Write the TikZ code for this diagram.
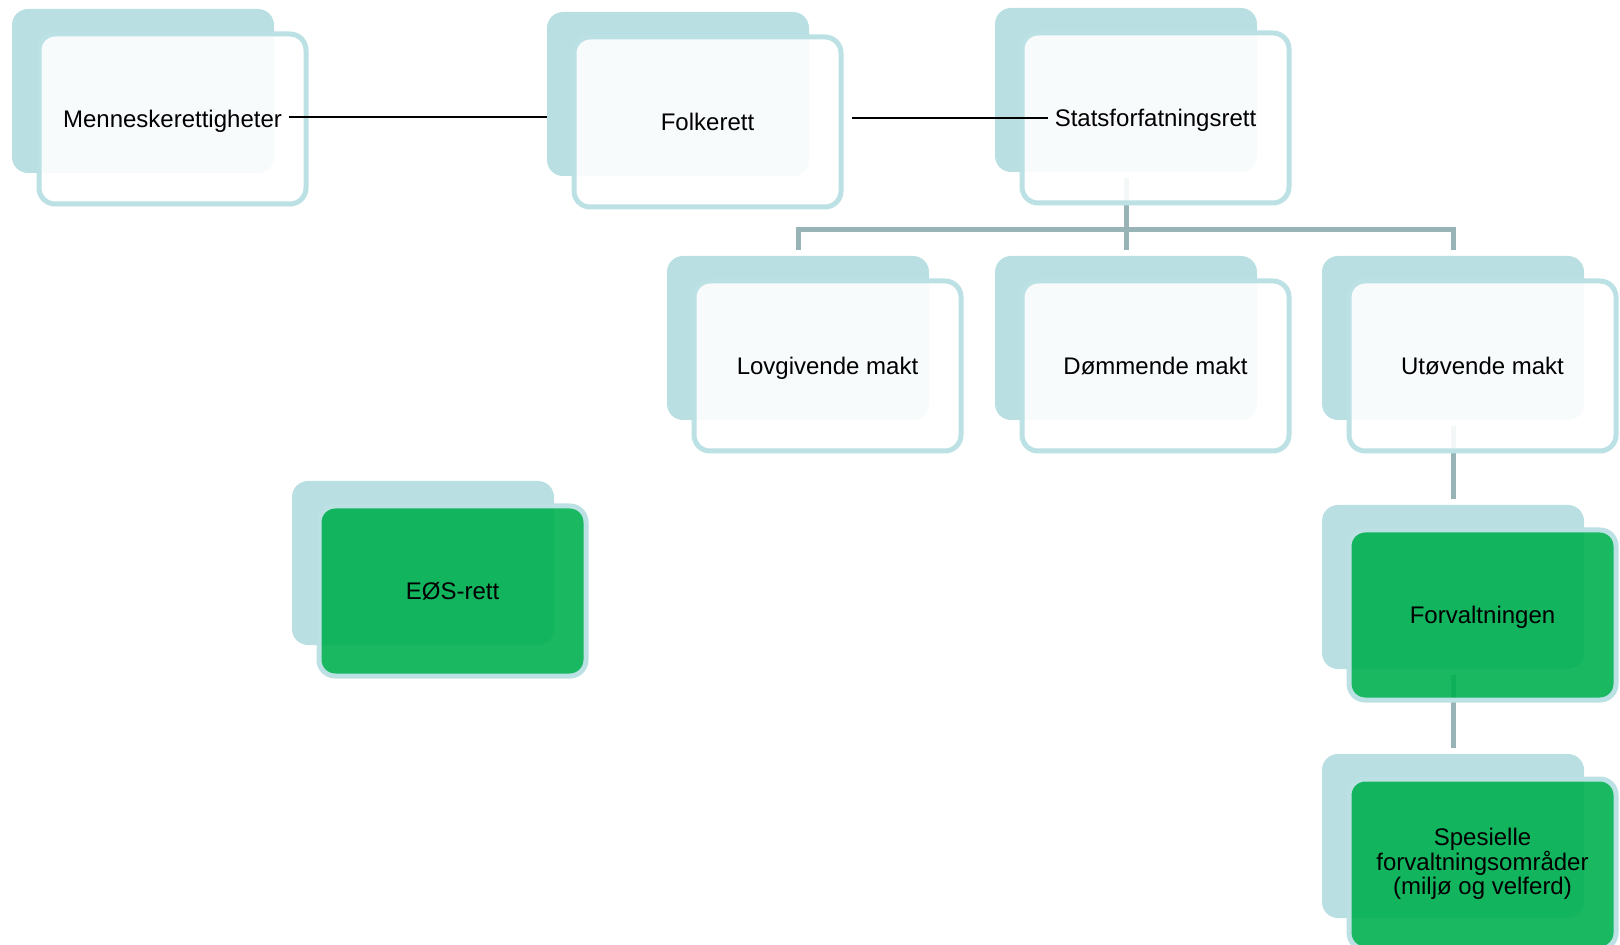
\documentclass[tikz,border=0pt]{standalone}
\usepackage{fontspec}
\setmainfont{Liberation Sans}
\usepackage{xcolor}
\usepackage{tikz}
\definecolor{cardback}{RGB}{185,223,226}
\definecolor{cardline}{RGB}{188,225,228}
\definecolor{treeline}{RGB}{151,179,182}
\definecolor{cardgreen}{RGB}{0,176,80}
\tikzset{ back_card/.style = {rectangle, rounded corners=8pt, fill=cardback, minimum width=131pt, minimum height=82pt, inner sep=0pt} }
\tikzset{ front_card/.style = {rectangle, rounded corners=8pt, draw=cardline, line width=2.5pt, fill=white, fill opacity=0.9, minimum width=133.5pt, minimum height=85pt, inner sep=0pt} }
\tikzset{ green_card/.style = {front_card, fill=cardgreen} }
\tikzset{ card_text/.style = {font=\fontsize{12}{12.3}\selectfont, align=center} }
\tikzset{ line_text/.style = {card_text, text height=10.9pt, text depth=2.5pt} }
\tikzset{ tree_link/.style = {draw=treeline, line width=2.5pt, shorten <=3pt, shorten >=3pt} }
\tikzset{ side_link/.style = {draw=black, line width=1pt} }

\begin{document}
\begin{tikzpicture}[x=0.5pt,y=-0.5pt]
\useasboundingbox (0,0) rectangle (1620,945);
% back cards
\node[back_card] (mback) at (143,91) {};
\node[back_card] (fback) at (678,94) {};
\node[back_card] (sback) at (1126,90) {};
\node[back_card] (lback) at (798,338) {};
\node[back_card] (dback) at (1126,338) {};
\node[back_card] (uback) at (1453,338) {};
\node[back_card] (fvback) at (1453,587) {};
\node[back_card] (spback) at (1453,836) {};
\node[back_card] (eback) at (423,563) {};
% tree under the front cards
\draw[tree_link] (sback.south) -- ++(0,57) -| (lback.north);
\draw[tree_link] (sback.south) -- (dback.north);
\draw[tree_link] (sback.south) -- ++(0,57) -| (uback.north);
\draw[tree_link] (uback.south) -- (fvback.north);
\draw[tree_link] (fvback.south) -- (spback.north);
% front cards
\node[front_card] (mfront) at ([shift={(29.5,28)}]mback) {};
\node[front_card] (ffront) at ([shift={(29.5,28)}]fback) {};
\node[front_card] (sfront) at ([shift={(29.5,28)}]sback) {};
\node[front_card] (lfront) at ([shift={(29.5,28)}]lback) {};
\node[front_card] (dfront) at ([shift={(29.5,28)}]dback) {};
\node[front_card] (ufront) at ([shift={(29.5,28)}]uback) {};
\node[green_card] (fvfront) at ([shift={(29.5,28)}]fvback) {};
\node[green_card] (spfront) at ([shift={(29.5,28)}]spback) {};
\node[green_card] (efront) at ([shift={(29.5,28)}]eback) {};
% texts
\node[line_text] (mtxt) at (mfront) {Menneskerettigheter};
\node[line_text] (ftxt) at (ffront) {Folkerett};
\node[line_text] (stxt) at (sfront) {Statsforfatningsrett};
\node[line_text] (ltxt) at (lfront) {Lovgivende makt};
\node[line_text] (dtxt) at (dfront) {Dømmende makt};
\node[line_text] (utxt) at (ufront) {Utøvende makt};
\node[line_text] (fvtxt) at (fvfront) {Forvaltningen};
\node[card_text] (sptxt) at (spfront) {Spesielle\\forvaltningsområder\\(miljø og velferd)};
\node[line_text] (etxt) at (efront) {EØS-rett};
% lines on top
\coordinate (fout) at ([xshift=4pt]ffront.east);
\draw[side_link] ([yshift=1pt]mtxt.east) -- ([yshift=1pt]mtxt.east -| fback.west);
\draw[side_link] (fout |- stxt.west) -- (stxt.west);
\end{tikzpicture}
\end{document}
